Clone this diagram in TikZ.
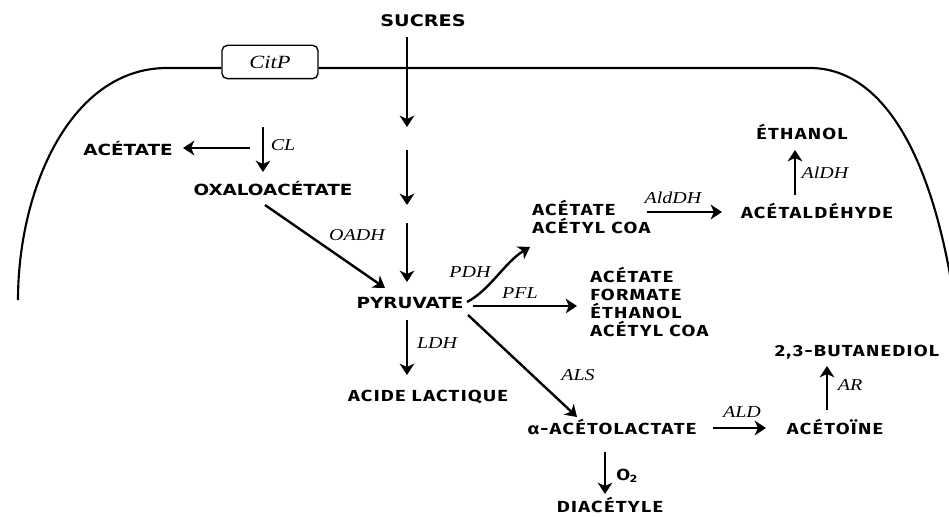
\documentclass[tikz,border=0pt]{standalone}
\usepackage{fontspec}
\usetikzlibrary{arrows.meta}
\newfontfamily\fa{DejaVu Sans}[FakeStretch=1.2]
\newfontfamily\fb{Fira Sans}[FakeStretch=1.25,LetterSpace=8]
\newfontfamily\fe{Liberation Serif}[FakeStretch=1.2]
\tikzset{
  arr/.style={-{Stealth[length=8.5pt,width=11pt,inset=2.5pt]}, line width=1.8pt},
  ta/.style={font=\fa\bfseries\fontsize{11.5}{13}\selectfont, inner sep=0pt},
  tb/.style={font=\fb\bfseries\fontsize{12}{13.5}\selectfont, inner sep=0pt},
  enz/.style={font=\fe\itshape\fontsize{12.5}{13}\selectfont, inner sep=0pt},
  memb/.style={line width=1.6pt},
}
\begin{document}
\begin{tikzpicture}[x=0.75pt,y=-0.75pt]
\useasboundingbox (0,0) rectangle (949,517);
\begin{scope}
\clip (0,0) rectangle (949,517);
% membrane
\node[draw, line width=1pt, rounded corners=4pt, minimum width=72pt, minimum height=25pt, inner sep=0pt, font=\fe\itshape\fontsize{14}{15}\selectfont] (citp) at (270,62) {CitP};
\coordinate (mL) at (18,300);
\coordinate (mR) at (957,320);
\draw[memb] (mL) .. controls (18,190) and (70,68) .. (167,68) -- (citp.west |- 0,68);
\draw[memb] (citp.east |- 0,68) -- (810,68) .. controls (880,68) and (935,150) .. (mR);
\end{scope}

% metabolites
\node[ta, font=\fa\bfseries\fontsize{12}{13}\selectfont] (sucres) at (423,21) {SUCRES};
\node[ta] (acL) at (128,148) {ACÉTATE};
\node[ta] (oxa) at (273,188) {OXALOACÉTATE};
\node[ta] (pyr) at (410,303) {PYRUVATE};
\node[tb, align=left, anchor=north west] (acco) at (532,200) {ACÉTATE\\ACÉTYL COA};
\node[tb] (etoh) at (802,132) {ÉTHANOL};
\node[tb] (acald) at (817,211) {ACÉTALDÉHYDE};
\node[tb, align=left, anchor=north west] (mix) at (590,267) {ACÉTATE\\FORMATE\\ÉTHANOL\\ACÉTYL COA};
\node[tb] (lact) at (428,397) {ACIDE LACTIQUE};
\node[tb] (alac) at (612,427) {α-ACÉTOLACTATE};
\node[tb] (acetoin) at (835,427) {ACÉTOÏNE};
\node[tb] (btd) at (857,352) {2,3-BUTANEDIOL};
\node[tb, anchor=base] (diac) at (610,512) {DIACÉTYLE};

% pathway coordinates
\coordinate (s1) at (407,37);  \coordinate (e1) at (407,127);
\coordinate (s2) at (407,150); \coordinate (e2) at (407,205);
\coordinate (s3) at (407,223); \coordinate (e3) at (407,282);
\coordinate (clS) at (263,127); \coordinate (clE) at (263,172);
\coordinate (acS) at (250,148); \coordinate (acE) at (183,148);
\coordinate (oaS) at (265,205); \coordinate (oaE) at (385,288);
\coordinate (pdhS) at (467,302); \coordinate (pdhE) at (530,247);
\coordinate (pflS) at (473,306); \coordinate (pflE) at (577,306);
\coordinate (ldhS) at (407,320); \coordinate (ldhE) at (407,375);
\coordinate (alsS) at (468,315); \coordinate (alsE) at (577,417);
\coordinate (aldS) at (647,212); \coordinate (aldE) at (722,212);
\coordinate (adhS) at (795,195); \coordinate (adhE) at (795,150);
\coordinate (alS) at (713,428); \coordinate (alE) at (766,428);
\coordinate (arS) at (827,410); \coordinate (arE) at (827,366);
\coordinate (o2S) at (605,452); \coordinate (o2E) at (605,494);

\draw[arr] (s1) -- (e1);
\draw[arr] (s2) -- (e2);
\draw[arr] (s3) -- (e3);
\draw[arr] (clS) -- (clE);
\draw[arr] (acS) -- (acE);
\draw[arr] (oaS) -- (oaE);
\draw[arr] (pdhS) .. controls (490,290) and (505,262) .. (pdhE);
\draw[arr] (pflS) -- (pflE);
\draw[arr] (ldhS) -- (ldhE);
\draw[arr] (alsS) -- (alsE);
\draw[arr] (aldS) -- (aldE);
\draw[arr] (adhS) -- (adhE);
\draw[arr] (alS) -- (alE);
\draw[arr] (arS) -- (arE);
\draw[arr] (o2S) -- (o2E);

% enzyme labels
\node[enz] (lcl) at (283,145) {CL};
\node[enz] (loadh) at (357,235) {OADH};
\node[enz] (lpdh) at (470,272) {PDH};
\node[enz] (lpfl) at (520,293) {PFL};
\node[enz] (lldh) at (437,343) {LDH};
\node[enz] (lals) at (578,375) {ALS};
\node[enz] (laldh) at (673,198) {AldDH};
\node[enz] (lal2) at (825,173) {AlDH};
\node[enz] (lald) at (742,412) {ALD};
\node[enz] (lar) at (850,385) {AR};
\node[tb] (lo2) at (627,476) {O\textsubscript{2}};
\end{tikzpicture}
\end{document}
